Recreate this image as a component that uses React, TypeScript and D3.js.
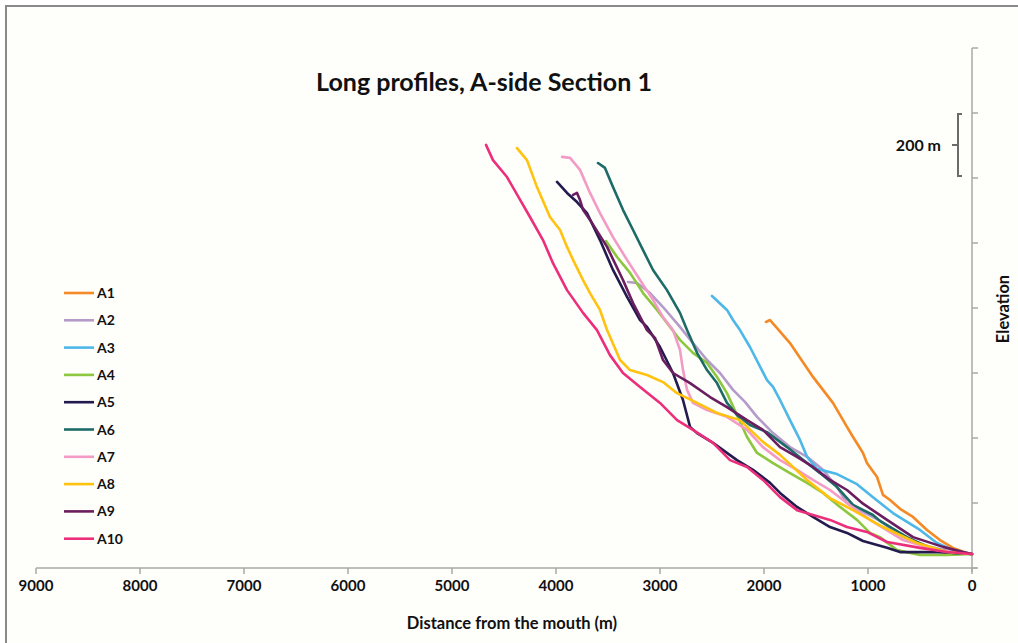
import React, { useEffect, useRef } from "react";
import * as d3 from "d3";

// distance from mouth (m), elevation (m)
const A1 = [[1981, 757], [1942, 763], [1885, 742], [1750, 692], [1529, 588], [1337, 508], [1202, 434], [1144, 403], [1048, 354], [1010, 323], [913, 280], [856, 225], [788, 209], [692, 182], [567, 157], [433, 117], [308, 86], [183, 62], [48, 46], [0, 43]];
const A2 = [[3308, 880], [3221, 877], [3096, 846], [2971, 803], [2808, 742], [2683, 692], [2548, 640], [2423, 600], [2298, 548], [2183, 511], [2067, 465], [1913, 415], [1750, 372], [1586, 342], [1433, 302], [1298, 249], [1202, 200], [1077, 178], [885, 145], [663, 95], [404, 65], [183, 49], [0, 43]];
const A3 = [[2500, 837], [2356, 794], [2298, 763], [2231, 732], [2135, 680], [1971, 578], [1913, 557], [1846, 517], [1750, 455], [1654, 394], [1586, 342], [1490, 305], [1298, 289], [1106, 258], [952, 218], [760, 169], [500, 117], [337, 77], [183, 55], [0, 43]];
const A4 = [[3519, 1006], [3413, 957], [3288, 908], [3163, 846], [3029, 794], [2933, 754], [2808, 702], [2683, 662], [2548, 631], [2452, 588], [2356, 538], [2260, 471], [2163, 403], [2067, 354], [1913, 323], [1750, 292], [1586, 262], [1433, 231], [1269, 188], [1106, 148], [981, 108], [885, 95], [721, 55], [500, 40], [240, 40], [0, 43]];
const A5 = [[3990, 1188], [3894, 1154], [3798, 1126], [3702, 1092], [3577, 1009], [3452, 917], [3317, 834], [3192, 763], [3125, 742], [3000, 680], [2875, 600], [2779, 517], [2711, 434], [2644, 415], [2490, 385], [2260, 332], [2106, 302], [1942, 262], [1846, 231], [1683, 188], [1529, 157], [1365, 126], [1202, 108], [1048, 83], [817, 62], [692, 49], [375, 49], [163, 46], [0, 43]];
const A6 = [[3596, 1246], [3529, 1231], [3452, 1172], [3356, 1102], [3259, 1040], [3163, 978], [3067, 917], [2933, 855], [2808, 785], [2740, 732], [2644, 662], [2548, 609], [2452, 569], [2356, 508], [2260, 471], [2135, 440], [1971, 418], [1779, 372], [1586, 323], [1461, 292], [1298, 249], [1144, 194], [952, 163], [885, 145], [625, 95], [404, 62], [183, 46], [0, 43]];
const A7 = [[3942, 1265], [3865, 1262], [3769, 1225], [3673, 1154], [3577, 1092], [3452, 1018], [3317, 948], [3192, 886], [3067, 825], [2971, 772], [2875, 732], [2808, 671], [2779, 609], [2740, 548], [2683, 508], [2548, 486], [2356, 465], [2163, 425], [2010, 372], [1846, 332], [1683, 302], [1529, 271], [1365, 240], [1202, 200], [981, 148], [663, 86], [337, 55], [0, 43]];
const A8 = [[4375, 1292], [4279, 1255], [4183, 1172], [4058, 1080], [3961, 1040], [3894, 988], [3836, 948], [3740, 886], [3673, 846], [3577, 794], [3509, 732], [3384, 640], [3288, 609], [3125, 594], [2971, 572], [2836, 538], [2644, 508], [2452, 477], [2231, 455], [2010, 388], [1846, 348], [1586, 271], [1365, 215], [1144, 178], [856, 126], [529, 77], [240, 49], [0, 43]];
const A9 = [[3836, 1148], [3798, 1154], [3769, 1132], [3740, 1102], [3673, 1071], [3509, 988], [3356, 886], [3259, 815], [3125, 732], [3048, 708], [2971, 640], [2875, 600], [2711, 569], [2519, 526], [2356, 495], [2163, 455], [2010, 425], [1846, 372], [1683, 342], [1529, 311], [1365, 271], [1202, 240], [1048, 198], [817, 148], [567, 95], [279, 65], [87, 49], [0, 43]];
const A10 = [[4673, 1302], [4606, 1255], [4471, 1203], [4327, 1123], [4250, 1080], [4125, 1009], [4029, 938], [3894, 855], [3740, 785], [3606, 732], [3481, 655], [3356, 600], [3192, 557], [3000, 508], [2836, 455], [2683, 425], [2490, 385], [2327, 332], [2163, 311], [2010, 271], [1846, 218], [1683, 178], [1529, 163], [1365, 148], [1202, 126], [1010, 111], [817, 80], [500, 62], [240, 49], [0, 43]];

const seriesNames = ["A1", "A2", "A3", "A4", "A5", "A6", "A7", "A8", "A9", "A10"];
const seriesData = [A1, A2, A3, A4, A5, A6, A7, A8, A9, A10];
const colors = ["#f48a26", "#b59bca", "#4db8e8", "#8dc63f", "#231b4f", "#1d6b67", "#f39bc4", "#ffc20e", "#6a1d5f", "#ec2f7b"];

const xTicks = [9000, 8000, 7000, 6000, 5000, 4000, 3000, 2000, 1000, 0];
const yTicks = [0, 200, 400, 600, 800, 1000, 1200, 1400, 1600];

const App = () => {
  const ref = useRef(null);

  useEffect(() => {
    const svg = d3.select(ref.current);
    svg.selectAll("*").remove();

    const width = 1018, height = 643;
    const font = "Lato, 'Open Sans', sans-serif";

    const x = d3.scaleLinear().domain([9000, 0]).range([36, 972]);
    const y = d3.scaleLinear().domain([0, 1600]).range([568, 48]);

    // background + frame
    svg.append("rect").attr("width", width).attr("height", height).attr("fill", "#ffffff");
    svg.append("rect")
      .attr("x", 6).attr("y", 6)
      .attr("width", width + 20).attr("height", height + 20)
      .attr("fill", "#fefefb")
      .attr("stroke", "#8a8a8a")
      .attr("stroke-width", 2);

    // title
    svg.append("text")
      .attr("x", 484).attr("y", 91)
      .attr("text-anchor", "middle")
      .attr("font-family", font).attr("font-weight", "bold").attr("font-size", 25)
      .attr("fill", "#111")
      .text("Long profiles, A-side Section 1");

    // x axis
    const axisColor = "#a8a8a8";
    svg.append("line")
      .attr("x1", 36).attr("x2", 977)
      .attr("y1", y(0)).attr("y2", y(0))
      .attr("stroke", axisColor).attr("stroke-width", 1.5);
    svg.selectAll(".xtick")
      .data(xTicks)
      .enter()
      .append("line")
      .attr("x1", (d) => x(d)).attr("x2", (d) => x(d))
      .attr("y1", y(0)).attr("y2", y(0) + 6)
      .attr("stroke", axisColor).attr("stroke-width", 1.5);
    svg.selectAll(".xlabel")
      .data(xTicks)
      .enter()
      .append("text")
      .attr("x", (d) => x(d)).attr("y", 591)
      .attr("text-anchor", "middle")
      .attr("font-family", font).attr("font-weight", "bold").attr("font-size", 15)
      .attr("fill", "#111")
      .text((d) => d);
    svg.append("text")
      .attr("x", 512).attr("y", 629)
      .attr("text-anchor", "middle")
      .attr("font-family", font).attr("font-weight", "bold").attr("font-size", 16.5)
      .attr("fill", "#111")
      .text("Distance from the mouth (m)");

    // y axis on the right
    svg.append("line")
      .attr("x1", x(0)).attr("x2", x(0))
      .attr("y1", y(1600)).attr("y2", y(0) + 4)
      .attr("stroke", axisColor).attr("stroke-width", 1.5);
    svg.selectAll(".ytick")
      .data(yTicks)
      .enter()
      .append("line")
      .attr("x1", x(0)).attr("x2", x(0) + 6)
      .attr("y1", (d) => y(d)).attr("y2", (d) => y(d))
      .attr("stroke", axisColor).attr("stroke-width", 1.5);
    svg.append("text")
      .attr("transform", `translate(1009,${309}) rotate(-90)`)
      .attr("text-anchor", "middle")
      .attr("font-family", font).attr("font-weight", "bold").attr("font-size", 16.5)
      .attr("fill", "#111")
      .text("Elevation");

    // 200 m scale bracket
    const bx = 958, by0 = y(1400) + 1, by1 = y(1200) - 2;
    svg.append("path")
      .attr("d", `M${bx + 4},${by0} H${bx} V${by1} H${bx + 4} M${bx},${(by0 + by1) / 2} H${bx - 6}`)
      .attr("fill", "none")
      .attr("stroke", "#6b6b6b").attr("stroke-width", 2);
    svg.append("text")
      .attr("x", 941).attr("y", (by0 + by1) / 2 + 6)
      .attr("text-anchor", "end")
      .attr("font-family", font).attr("font-weight", "bold").attr("font-size", 16)
      .attr("fill", "#111")
      .text("200 m");

    // profiles
    const line = d3.line()
      .x((d) => x(d[0]))
      .y((d) => y(d[1]));

    seriesData.forEach((s, i) => {
      svg.append("path")
        .datum(s)
        .attr("fill", "none")
        .attr("stroke", colors[i])
        .attr("stroke-width", 2.6)
        .attr("stroke-linejoin", "round")
        .attr("stroke-linecap", "round")
        .attr("d", line);
    });

    // legend
    const legend = svg.append("g");
    seriesNames.forEach((name, i) => {
      const ly = 293 + i * 27.3;
      legend.append("line")
        .attr("x1", 64).attr("x2", 94)
        .attr("y1", ly).attr("y2", ly)
        .attr("stroke", colors[i]).attr("stroke-width", 2.6);
      legend.append("text")
        .attr("x", 97).attr("y", ly + 5)
        .attr("font-family", font).attr("font-weight", "bold").attr("font-size", 14)
        .attr("fill", "#111")
        .text(name);
    });
  }, []);

  return (
    <svg
      ref={ref}
      width={1018}
      height={643}
      style={{ position: "absolute", left: 0, top: 0, display: "block" }}
    />
  );
};

export default App;
